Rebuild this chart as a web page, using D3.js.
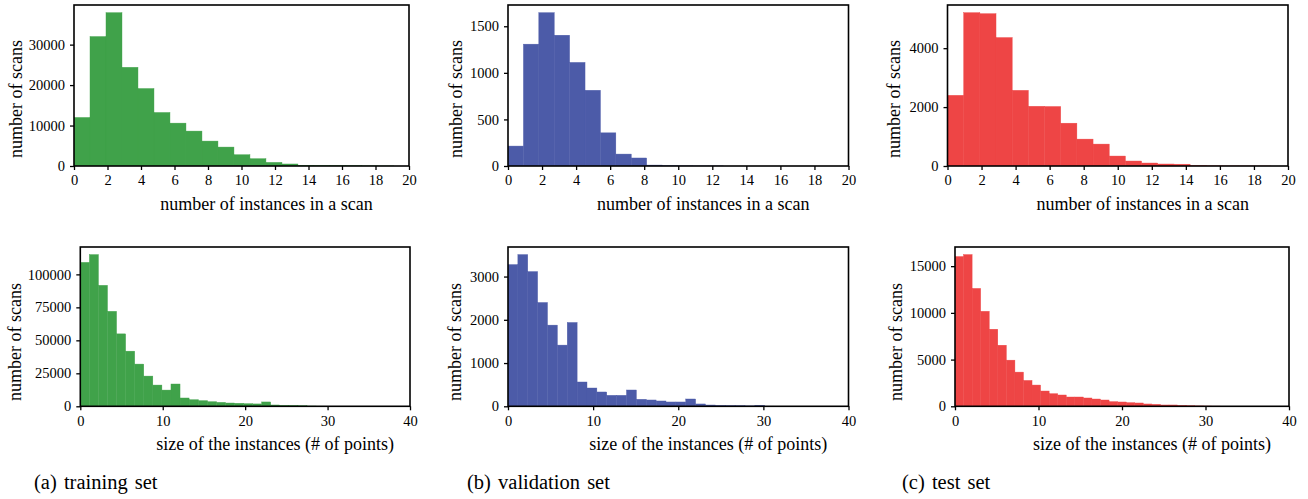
<!DOCTYPE html>
<html>
<head>
<meta charset="utf-8">
<script src="https://cdn.jsdelivr.net/npm/d3@7"></script>
<style>
  html, body { margin: 0; padding: 0; background: #fff; }
  svg { display: block; }
  text { font-family: "Liberation Serif", "Times New Roman", serif; fill: #000; }
</style>
</head>
<body>
<svg id="chart" width="1308" height="499"></svg>
<script>
// ---------- data ----------
const captions = ["(a) training set", "(b) validation set", "(c) test set"];
const xLabelTop = "number of instances in a scan";
const xLabelBottom = "size of the instances (# of points)";
const yLabel = "number of scans";

// top row: number of instances per scan
const trainInstBinWidth = 0.955;
const trainInstCounts = [12000, 32000, 37900, 24400, 19150, 13230, 10600, 8630, 6160, 4680, 2790, 1810, 900, 500, 150, 100, 80, 60, 40, 20];
const valInstBinWidth = 0.905;
const valInstCounts = [214, 1308, 1646, 1404, 1112, 813, 356, 128, 86, 10, 3, 2, 1, 1, 0, 0, 0, 0, 0, 0];
const testInstBinWidth = 0.95;
const testInstCounts = [2400, 5206, 5172, 4361, 2569, 2028, 2020, 1454, 913, 744, 338, 169, 101, 68, 62, 8, 5, 3, 2, 1];

// bottom row: size of instances
const trainSizeBinWidth = 1.1;
const trainSizeCounts = [109100, 115000, 91700, 72000, 54900, 41800, 32000, 22900, 16100, 12300, 16900, 6300, 5000, 4300, 3500, 3000, 2500, 2300, 2000, 1800, 3300, 1000, 750, 700, 500, 200, 100, 50, 30, 20];
const valSizeBinWidth = 1.16;
const valSizeCounts = [3277, 3508, 3115, 2400, 1877, 1415, 1938, 562, 423, 331, 254, 254, 377, 162, 146, 123, 100, 100, 169, 54, 30, 23, 20, 18, 10, 25, 3, 2, 1, 1];
const testSizeBinWidth = 1.025;
const testSizeCounts = [16030, 16240, 12620, 10170, 8250, 6540, 4940, 3660, 2770, 2275, 1635, 1350, 1210, 995, 995, 890, 780, 675, 500, 462, 391, 355, 249, 213, 142, 142, 107, 71, 40, 30, 20, 10];

const topXTicks = [0, 2, 4, 6, 8, 10, 12, 14, 16, 18, 20];
const bottomXTicks = [0, 10, 20, 30, 40];
const trainInstYTicks = [0, 10000, 20000, 30000];
const valInstYTicks = [0, 500, 1000, 1500];
const testInstYTicks = [0, 2000, 4000];
const trainSizeYTicks = [0, 25000, 50000, 75000, 100000];
const valSizeYTicks = [0, 1000, 2000, 3000];
const testSizeYTicks = [0, 5000, 10000, 15000];

// ---------- style / layout ----------
const FONT = '"Liberation Serif", "Times New Roman", serif';
const green = "#40a24a", blue = "#4c5ba8", red = "#ee4545";

const panels = [
  { counts: trainInstCounts, bw: trainInstBinWidth, xmax: 20, xticks: topXTicks, yticks: trainInstYTicks, color: green,
    left: 74, right: 409, top: 5, bottom: 166, xl: xLabelTop, xlShift: 25, xlY: 210, ylX: 22, ylY: 99 },
  { counts: valInstCounts, bw: valInstBinWidth, xmax: 20, xticks: topXTicks, yticks: valInstYTicks, color: blue,
    left: 508, right: 848.5, top: 5, bottom: 166, xl: xLabelTop, xlShift: 25, xlY: 210, ylX: 462, ylY: 99 },
  { counts: testInstCounts, bw: testInstBinWidth, xmax: 20, xticks: topXTicks, yticks: testInstYTicks, color: red,
    left: 947.5, right: 1288, top: 5, bottom: 166, xl: xLabelTop, xlShift: 25, xlY: 210, ylX: 900, ylY: 99 },
  { counts: trainSizeCounts, bw: trainSizeBinWidth, xmax: 40, xticks: bottomXTicks, yticks: trainSizeYTicks, color: green,
    left: 80.3, right: 410, top: 247, bottom: 406.3, xl: xLabelBottom, xlShift: 30, xlY: 450, ylX: 21, ylY: 342 },
  { counts: valSizeCounts, bw: valSizeBinWidth, xmax: 40, xticks: bottomXTicks, yticks: valSizeYTicks, color: blue,
    left: 508, right: 848.5, top: 247, bottom: 406.3, xl: xLabelBottom, xlShift: 30, xlY: 450, ylX: 461, ylY: 342 },
  { counts: testSizeCounts, bw: testSizeBinWidth, xmax: 40, xticks: bottomXTicks, yticks: testSizeYTicks, color: red,
    left: 955, right: 1289, top: 247, bottom: 406.3, xl: xLabelBottom, xlShift: 30, xlY: 450, ylX: 902, ylY: 342 }
];

const captionPos = [{ x: 34, y: 489 }, { x: 467, y: 489 }, { x: 902, y: 489 }];

const svg = d3.select("#chart");

panels.forEach(p => {
  const x = d3.scaleLinear().domain([0, p.xmax]).range([p.left, p.right]);
  const ymax = d3.max(p.counts) * 1.05;
  const y = d3.scaleLinear().domain([0, ymax]).range([p.bottom, p.top]);
  const g = svg.append("g");

  const clipId = "clip" + Math.round(p.left) + "_" + Math.round(p.top);
  svg.append("clipPath").attr("id", clipId)
    .append("rect").attr("x", p.left).attr("y", p.top)
    .attr("width", p.right - p.left).attr("height", p.bottom - p.top);

  const bins = p.counts.map((c, i) => ({ x0: i * p.bw, x1: (i + 1) * p.bw, c }));
  g.append("g").attr("clip-path", `url(#${clipId})`)
    .selectAll("rect").data(bins.filter(d => d.c > 0)).join("rect")
    .attr("x", d => x(d.x0))
    .attr("width", d => Math.max(0, x(d.x1) - x(d.x0)))
    .attr("y", d => y(d.c))
    .attr("height", d => y(0) - y(d.c))
    .attr("fill", p.color)
    .attr("stroke", p.color)
    .attr("stroke-width", 0.4);

  // axes
  const xAxis = d3.axisBottom(x).tickValues(p.xticks).tickFormat(d3.format("d")).tickSize(4).tickPadding(5);
  const yAxis = d3.axisLeft(y).tickValues(p.yticks).tickFormat(d3.format("d")).tickSize(4).tickPadding(5);
  const gx = g.append("g").attr("transform", `translate(0,${p.bottom})`).call(xAxis);
  const gy = g.append("g").attr("transform", `translate(${p.left},0)`).call(yAxis);
  [gx, gy].forEach(a => {
    a.attr("font-family", FONT).attr("font-size", 14.5);
    a.select(".domain").remove();
    a.selectAll(".tick line").attr("stroke", "#000").attr("stroke-width", 1.3);
    a.selectAll(".tick text").attr("font-family", FONT).attr("font-size", 14.5).attr("fill", "#000");
  });

  // frame
  g.append("rect").attr("x", p.left).attr("y", p.top)
    .attr("width", p.right - p.left).attr("height", p.bottom - p.top)
    .attr("fill", "none").attr("stroke", "#000").attr("stroke-width", 1.6);

  // labels
  g.append("text").attr("x", (p.left + p.right) / 2 + p.xlShift).attr("y", p.xlY)
    .attr("text-anchor", "middle").attr("font-family", FONT).attr("font-size", 18).text(p.xl);
  g.append("text").attr("transform", `translate(${p.ylX},${p.ylY}) rotate(-90)`)
    .attr("text-anchor", "middle").attr("font-family", FONT).attr("font-size", 18).text(yLabel);
});

captions.forEach((c, i) => {
  svg.append("text").attr("x", captionPos[i].x).attr("y", captionPos[i].y)
    .attr("font-family", FONT).attr("font-size", 20.5).style("word-spacing", "2px").text(c);
});
</script>
</body>
</html>
